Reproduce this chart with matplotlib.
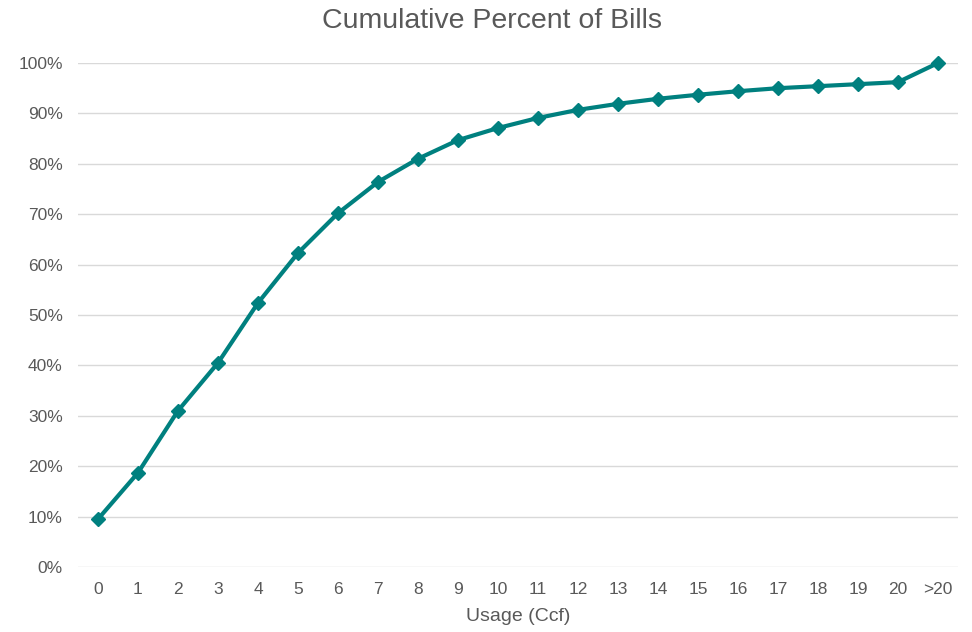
import matplotlib
matplotlib.use('Agg')
import matplotlib.pyplot as plt
from matplotlib.ticker import PercentFormatter

plt.rcParams['font.family'] = ['Liberation Sans', 'DejaVu Sans']

# usage buckets (Ccf) and cumulative share of bills
usage = ['0', '1', '2', '3', '4', '5', '6', '7', '8', '9', '10',
         '11', '12', '13', '14', '15', '16', '17', '18', '19', '20', '>20']
cum_pct = [0.095, 0.187, 0.310, 0.405, 0.524, 0.623, 0.702, 0.764, 0.810, 0.847, 0.871,
           0.891, 0.907, 0.919, 0.929, 0.937, 0.944, 0.950, 0.954, 0.958, 0.962, 1.000]

teal = '#00807F'
grey = '#595959'

fig = plt.figure(figsize=(9.72, 6.32), dpi=100)
ax = fig.add_axes([78 / 972, 1 - 567 / 632, 880 / 972, 504 / 632])

x = range(len(usage))
ax.plot(x, cum_pct, color=teal, linewidth=3, marker='D', markersize=7,
        zorder=3, clip_on=False)

ax.set_xlim(-0.5, len(usage) - 0.5)
ax.set_ylim(0, 1)
ax.set_yticks([i / 10 for i in range(11)])
ax.yaxis.set_major_formatter(PercentFormatter(1.0, decimals=0))
ax.set_xticks(list(x))
ax.set_xticklabels(usage)

ax.grid(axis='y', color='#D9D9D9', linewidth=1)
ax.set_axisbelow(True)
for s in ax.spines.values():
    s.set_visible(False)
ax.tick_params(length=0, colors=grey, labelsize=12.5)
ax.tick_params(axis='y', pad=11)
ax.tick_params(axis='x', pad=11)

ax.set_xlabel('Usage (Ccf)', color=grey, fontsize=14, labelpad=8)
fig.suptitle('Cumulative Percent of Bills', color=grey, fontsize=20.5,
             x=0.506, y=0.988)

fig.savefig('out.png', dpi=100)
